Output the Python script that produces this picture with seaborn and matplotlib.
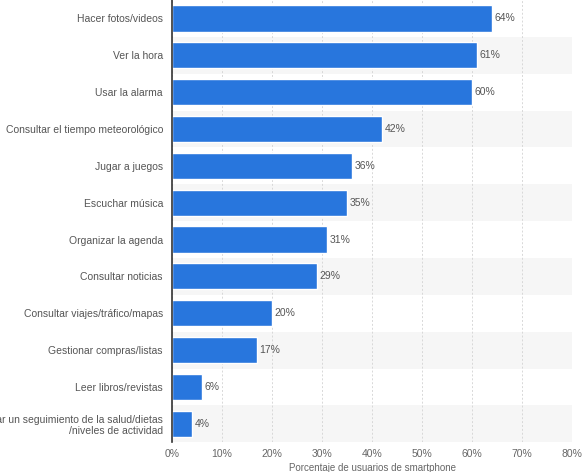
import pandas as pd
import numpy as np
import matplotlib.pyplot as plt
import seaborn as sns

categorias = ['Hacer fotos/videos', 'Ver la hora', 'Usar la alarma',
              'Consultar el tiempo meteorológico', 'Jugar a juegos',
              'Escuchar música', 'Organizar la agenda', 'Consultar noticias',
              'Consultar viajes/tráfico/mapas', 'Gestionar compras/listas',
              'Leer libros/revistas',
              'Llevar un seguimiento de la salud/dietas\n/niveles de actividad']
valores = [64, 61, 60, 42, 36, 35, 31, 29, 20, 17, 6, 4]
ticks = [0, 10, 20, 30, 40, 50, 60, 70, 80]

df = pd.DataFrame({'cat': categorias, 'val': valores})

sns.set_style('white')
plt.rcParams['font.family'] = ['Liberation Sans', 'DejaVu Sans']

fig = plt.figure(figsize=(5.82, 4.72), dpi=100)
ax = fig.add_axes([0.2955, 0.063, 0.6875, 0.937])

# filas alternas sombreadas
for i in range(len(categorias)):
    if i % 2 == 1:
        ax.axhspan(i - 0.5, i + 0.5, color='#f6f6f6', zorder=0, lw=0)

sns.barplot(data=df, y='cat', x='val', color='#2876dd', width=0.71,
            saturation=1, ax=ax, zorder=3)

for i, v in enumerate(valores):
    ax.text(v + 0.5, i, f'{v}%', va='center', ha='left', fontsize=7.5,
            color='#555555', zorder=4)

ax.set_xlim(0, 80)
ax.set_ylim(len(categorias) - 0.5, -0.5)
ax.set_xticks(ticks)
ax.set_xticklabels([f'{t}%' for t in ticks], fontsize=7.5, color='#666666')
ax.tick_params(axis='y', labelsize=7.5, labelcolor='#555555', length=0, pad=6.5)
ax.tick_params(axis='x', length=0, pad=5)
ax.set_ylabel('')
ax.set_xlabel('Porcentaje de usuarios de smartphone', fontsize=7,
              color='#666666', labelpad=3)

ax.xaxis.grid(True, linestyle=(0, (2, 2)), color='#d8d8d8', lw=0.7, zorder=1)
for s in ['top', 'right', 'bottom']:
    ax.spines[s].set_visible(False)
ax.spines['left'].set_color('#333333')
ax.spines['left'].set_linewidth(1.2)
ax.spines['left'].set_zorder(5)

fig.savefig('out.png', dpi=100)
